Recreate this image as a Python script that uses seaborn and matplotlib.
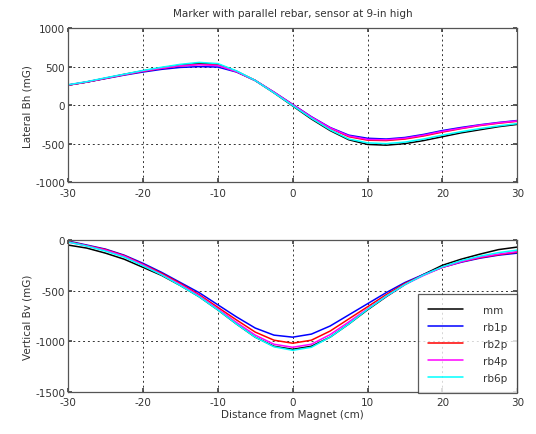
import matplotlib
matplotlib.use("Agg")
import matplotlib.pyplot as plt
import numpy as np
import seaborn as sns
import pandas as pd

# distance from magnet (cm)
dist = [-30, -27.5, -25, -22.5, -20, -17.5, -15, -12.5, -10, -7.5, -5, -2.5, 0,
        2.5, 5, 7.5, 10, 12.5, 15, 17.5, 20, 22.5, 25, 27.5, 30]
series = ["mm", "rb1p", "rb2p", "rb4p", "rb6p"]
colors = ["black", "#0000ff", "#ff0000", "#ff00ff", "#00ffff"]

# lateral Bh (mG)
bh_mm   = [260, 300, 350, 400, 445, 485, 520, 545, 530, 440, 320, 160, -10,
           -180, -330, -450, -510, -520, -500, -460, -410, -360, -320, -280, -250]
bh_rb1p = [260, 300, 345, 390, 430, 465, 490, 500, 495, 430, 320, 170, 10,
           -150, -290, -390, -430, -440, -420, -380, -330, -290, -255, -225, -200]
bh_rb2p = [260, 300, 348, 395, 440, 478, 510, 530, 520, 435, 320, 165, 5,
           -160, -300, -410, -455, -460, -440, -400, -350, -305, -265, -235, -210]
bh_rb4p = [262, 302, 350, 397, 442, 480, 512, 525, 515, 435, 320, 168, 5,
           -155, -295, -400, -445, -450, -430, -390, -340, -300, -260, -230, -205]
bh_rb6p = [265, 305, 355, 402, 450, 492, 530, 555, 540, 445, 320, 160, -5,
           -170, -320, -440, -490, -500, -480, -440, -390, -345, -305, -270, -240]

# vertical Bv (mG)
bv_mm   = [-50, -80, -130, -190, -270, -350, -450, -560, -690, -830, -960, -1050, -1080,
           -1050, -960, -830, -690, -560, -440, -340, -250, -190, -140, -95, -70]
bv_rb1p = [-10, -50, -90, -150, -230, -320, -420, -520, -640, -760, -870, -940, -960,
           -930, -850, -740, -630, -520, -420, -340, -270, -220, -180, -150, -130]
bv_rb2p = [-15, -55, -95, -155, -240, -330, -430, -540, -665, -790, -910, -990, -1020,
           -990, -900, -780, -660, -540, -430, -345, -270, -215, -175, -145, -120]
bv_rb4p = [-20, -58, -100, -160, -245, -340, -440, -550, -680, -815, -940, -1030, -1060,
           -1030, -935, -810, -680, -555, -440, -350, -270, -215, -170, -140, -115]
bv_rb6p = [-20, -60, -110, -170, -255, -345, -450, -560, -690, -830, -960, -1055, -1090,
           -1060, -960, -830, -685, -555, -440, -345, -265, -205, -160, -125, -100]

bh = dict(zip(series, [bh_mm, bh_rb1p, bh_rb2p, bh_rb4p, bh_rb6p]))
bv = dict(zip(series, [bv_mm, bv_rb1p, bv_rb2p, bv_rb4p, bv_rb6p]))

def long_form(d):
    rows = []
    for s in series:
        for x, v in zip(dist, d[s]):
            rows.append({"dist": x, "val": v, "series": s})
    return pd.DataFrame(rows)

sns.set_theme(style="white")
plt.rcParams["font.family"] = ["DejaVu Sans"]
plt.rcParams["axes.unicode_minus"] = False
plt.rcParams["xtick.direction"] = "in"
plt.rcParams["ytick.direction"] = "in"

fig = plt.figure(figsize=(5.36, 4.35), dpi=100)
ax1 = fig.add_axes([0.127, 0.579, 0.838, 0.354])
ax2 = fig.add_axes([0.127, 0.097, 0.838, 0.349])
pal = dict(zip(series, colors))

sns.lineplot(data=long_form(bh), x="dist", y="val", hue="series", palette=pal,
             ax=ax1, legend=False, linewidth=1.1)
sns.lineplot(data=long_form(bv), x="dist", y="val", hue="series", palette=pal,
             ax=ax2, linewidth=1.1)

for ax in (ax1, ax2):
    ax.set_xlim(-30, 30)
    ax.set_xticks([-30, -20, -10, 0, 10, 20, 30])
    ax.grid(True, linestyle=(0, (2, 3)), color="black", linewidth=0.7, alpha=0.8)
    ax.tick_params(labelsize=7.5, length=3, color="#444444", labelcolor="#333333",
                   bottom=True, left=True, top=True, right=True)
    ax.tick_params(axis="x", pad=4)
    ax.tick_params(axis="y", pad=2)
    for sp in ax.spines.values():
        sp.set_color("#555555")
        sp.set_linewidth(0.9)

ax1.set_ylim(-1000, 1000)
ax1.set_yticks([-1000, -500, 0, 500, 1000])
ax1.set_xlabel("")
ax1.set_ylabel("Lateral Bh (mG)", fontsize=7.5, labelpad=2, color="#333333")
ax1.set_title("Marker with parallel rebar, sensor at 9-in high", fontsize=7.5, pad=9,
              color="#333333")

ax2.set_ylim(-1500, 0)
ax2.set_yticks([-1500, -1000, -500, 0])
ax2.set_xlabel("Distance from Magnet (cm)", fontsize=7.5, labelpad=1, color="#333333")
ax2.set_ylabel("Vertical Bv (mG)", fontsize=7.5, labelpad=2, color="#333333")

leg = ax2.legend(loc="lower right", bbox_to_anchor=(1.0, -0.01), borderaxespad=0,
                 fontsize=7.5, handlelength=3.3, handletextpad=1.9, labelspacing=0.68,
                 fancybox=False, frameon=True, borderpad=1.0)
leg.get_frame().set_edgecolor("#333333")
leg.get_frame().set_linewidth(0.9)
for t in leg.get_texts():
    t.set_color("#333333")

fig.savefig("out.png", dpi=100)
